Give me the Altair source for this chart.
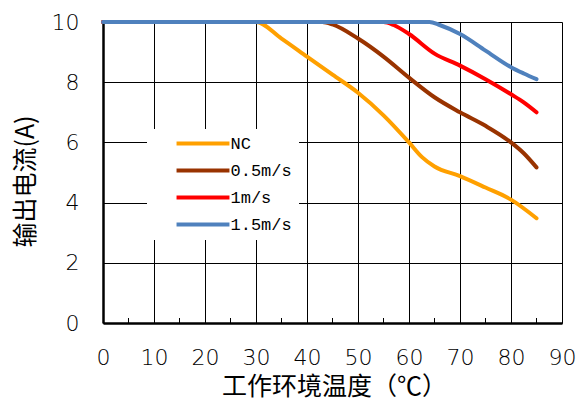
import altair as alt
import pandas as pd

series = ["NC", "0.5m/s", "1m/s", "1.5m/s"]
colors = ["#FFA000", "#993300", "#FF0000", "#4F81BD"]

nc_t = [0, 30, 35, 40, 45, 50, 55, 60, 62.5, 65, 70, 75, 80, 85]
nc_i = [10, 10, 9.45, 8.85, 8.25, 7.65, 6.9, 6.0, 5.52, 5.2, 4.88, 4.5, 4.1, 3.48]

s05_t = [0, 43, 45, 50, 55, 60, 65, 70, 75, 80, 82.5, 85]
s05_i = [10, 10, 9.92, 9.45, 8.85, 8.15, 7.5, 7.0, 6.55, 6.0, 5.64, 5.17]

s1_t = [0, 55, 57, 60, 65, 70, 75, 80, 82.5, 85]
s1_i = [10, 10, 9.9, 9.6, 8.95, 8.55, 8.1, 7.6, 7.33, 7.0]

s15_t = [0, 64, 66, 70, 75, 80, 82.5, 85]
s15_i = [10, 10, 9.9, 9.6, 9.05, 8.5, 8.29, 8.1]

x_ticks = [0, 10, 20, 30, 40, 50, 60, 70, 80, 90]
y_ticks = [0, 2, 4, 6, 8, 10]
minor_ticks = [5, 15, 25, 35, 45, 55, 65, 75, 85]

rows = []
for name, ts, vs in zip(series, [nc_t, s05_t, s1_t, s15_t], [nc_i, s05_i, s1_i, s15_i]):
    for k, (t, v) in enumerate(zip(ts, vs)):
        rows.append({"series": name, "t": t, "i": v, "order": k})
df = pd.DataFrame(rows)
df_minor = pd.DataFrame({"t": minor_ticks})

W, H = 459, 301
tick_font = "DejaVu Sans"
cjk_font = "Noto Sans CJK SC"

x_scale = alt.Scale(domain=[0, 90], nice=False)
y_scale = alt.Scale(domain=[0, 10], nice=False)

lines = alt.Chart(df).mark_line(
    strokeWidth=4, strokeCap="round", strokeJoin="round", interpolate="monotone"
).encode(
    x=alt.X("t:Q", scale=x_scale,
            axis=alt.Axis(values=x_ticks, title="工作环境温度（℃）", grid=True,
                          gridColor="black", gridOpacity=1, gridWidth=1,
                          domainColor="black", domainWidth=2.5, ticks=False,
                          labelFont=tick_font, labelFontSize=22, labelFontWeight=200,
                          labelColor="black", labelPadding=24, labelFlush=False,
                          titleFont=cjk_font, titleFontSize=25, titleFontWeight="normal",
                          titleColor="black", titleX=231, titleY=63,
                          titleBaseline="middle", titleAlign="center")),
    y=alt.Y("i:Q", scale=y_scale,
            axis=alt.Axis(values=y_ticks, title="输出电流(A)", grid=True,
                          gridColor="black", gridOpacity=1, gridWidth=1,
                          domainColor="black", domainWidth=2.5, ticks=False,
                          labelFont=tick_font, labelFontSize=22, labelFontWeight=200,
                          labelColor="black", labelPadding=24, labelFlush=False,
                          titleFont=cjk_font, titleFontSize=25, titleFontWeight="normal",
                          titleColor="black", titleX=-78, titleY=159,
                          titleBaseline="middle", titleAlign="center", titleAngle=270)),
    color=alt.Color("series:N", sort=series,
                    scale=alt.Scale(domain=series, range=colors),
                    legend=alt.Legend(orient="none", legendX=44, legendY=107,
                                      title=None, symbolType="M-5,0H5", symbolSize=112,
                                      symbolStrokeWidth=4, symbolFillColor="transparent",
                                      symbolOffset=41.5,
                                      labelFont="Liberation Mono", labelFontSize=17,
                                      labelColor="black", labelOffset=19,
                                      labelExpr="datum.label + '   '",
                                      rowPadding=9, padding=6, fillColor="white",
                                      strokeColor="white")),
    order="order:Q",
)

minor = alt.Chart(df_minor).mark_rule(color="black", strokeWidth=1).encode(
    x=alt.X("t:Q", scale=x_scale),
    y=alt.value(H),
    y2=alt.value(H - 5),
)

chart = alt.layer(minor, lines).properties(
    width=W, height=H,
    autosize=alt.AutoSizeParams(type="none"),
    padding={"left": 103, "top": 22, "right": 15, "bottom": 83},
).configure_view(
    stroke="black", strokeWidth=2.5
).configure(background="white")

chart.save("out.html", embed_options={"renderer": "svg", "actions": False})
